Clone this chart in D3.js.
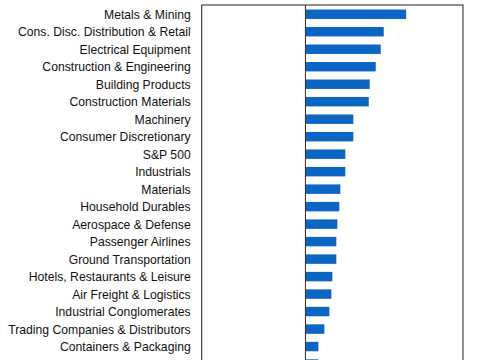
<!DOCTYPE html>
<html><head><meta charset="utf-8">
<script src="https://cdn.jsdelivr.net/npm/d3@7"></script>
<style>body{margin:0;background:#fff}svg{display:block}</style>
</head><body>
<script>
const categories = ["Metals & Mining","Cons. Disc. Distribution & Retail","Electrical Equipment","Construction & Engineering","Building Products","Construction Materials","Machinery","Consumer Discretionary","S&P 500","Industrials","Materials","Household Durables","Aerospace & Defense","Passenger Airlines","Ground Transportation","Hotels, Restaurants & Leisure","Air Freight & Logistics","Industrial Conglomerates","Trading Companies & Distributors","Containers & Packaging",""];
const values = [10.1,7.85,7.55,7.05,6.45,6.35,4.8,4.8,4.0,4.0,3.5,3.4,3.2,3.1,3.1,2.7,2.6,2.4,1.9,1.3,1.3];
const xDomain = [-10.4, 15.8];

(function(){
const W=485,H=360;
const svg=d3.select("body").append("svg").attr("width",W).attr("height",H);
const pLeft=201.7,pRight=463,pTop=5,step=17.49;
const x=d3.scaleLinear().domain(xDomain).range([pLeft,pRight]);
const y=d3.scaleBand().domain(categories).range([pTop+0.5,pTop+0.5+categories.length*step]).paddingInner(0.46).paddingOuter(0.23);

svg.append("g").selectAll("rect").data(categories).join("rect")
  .attr("x",(d,i)=>Math.min(x(0),x(values[i])))
  .attr("width",(d,i)=>Math.abs(x(values[i])-x(0)))
  .attr("y",d=>y(d)).attr("height",y.bandwidth())
  .attr("fill","#0a66c2");

svg.append("line").attr("x1",x(0)).attr("x2",x(0)).attr("y1",pTop).attr("y2",H+20)
  .attr("stroke","#3a2a2a").attr("stroke-width",1);

svg.append("rect").attr("x",pLeft).attr("y",pTop).attr("width",pRight-pLeft).attr("height",H+40)
  .attr("fill","none").attr("stroke","#333").attr("stroke-width",1.1);

const yAxis=d3.axisLeft(y).tickSize(0).tickPadding(11);
const g=svg.append("g").attr("transform",`translate(${pLeft},0.6)`).call(yAxis);
g.select(".domain").remove();
g.selectAll("text").attr("font-family","'Liberation Sans', Arial, sans-serif").attr("font-size","12.2px").attr("fill","#111");
})();
</script>
</body></html>
